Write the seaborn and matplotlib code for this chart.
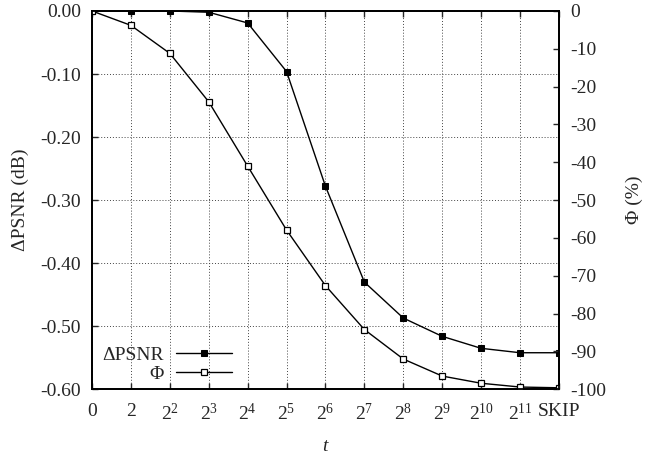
import pandas as pd
import seaborn as sns
import numpy as np
import matplotlib.pyplot as plt

# data
t_labels = ["0", "2", "$2^2$", "$2^3$", "$2^4$", "$2^5$", "$2^6$", "$2^7$",
            "$2^8$", "$2^9$", "$2^{10}$", "$2^{11}$", "SKIP"]
dpsnr = [0.000, 0.000, 0.000, -0.002, -0.019, -0.096, -0.278, -0.430,
         -0.487, -0.516, -0.535, -0.542, -0.542]
phi = [0.0, -3.8, -11.2, -24.0, -41.0, -57.9, -72.6, -84.2,
       -92.0, -96.5, -98.4, -99.4, -99.6]
left_ticks = [-0.6, -0.5, -0.4, -0.3, -0.2, -0.1, 0.0]
right_ticks = list(range(-100, 1, 10))

sns.set_style("ticks")
plt.rcParams["font.family"] = ["Liberation Serif", "DejaVu Serif"]
plt.rcParams["mathtext.fontset"] = "custom"
plt.rcParams["mathtext.rm"] = "Liberation Serif"
plt.rcParams["mathtext.it"] = "Liberation Serif:italic"
plt.rcParams["axes.unicode_minus"] = False
fs = 14

df = pd.DataFrame({"pos": np.arange(len(t_labels)), "dpsnr": dpsnr, "phi": phi})

fig = plt.figure(figsize=(6.45, 4.54), dpi=100)
ax = fig.add_axes([0.1426, 0.1425, 0.7240, 0.8333])
ax2 = ax.twinx()

sns.lineplot(data=df, x="pos", y="dpsnr", ax=ax, color="black", lw=1,
             marker="s", markersize=4.6, markerfacecolor="black",
             markeredgecolor="black", label="ΔPSNR", legend=False)
sns.lineplot(data=df, x="pos", y="phi", ax=ax2, color="black", lw=1,
             marker="s", markersize=4.3, markerfacecolor="white",
             markeredgecolor="black", markeredgewidth=0.9, label="Φ", legend=False)

ax.set_xlim(0, len(t_labels) - 1)
ax.set_ylim(-0.60, 0.0)
ax2.set_ylim(-100, 0)
ax.set_xticks(df["pos"])
ax.set_xticklabels(t_labels)
ax.set_yticks(left_ticks)
ax.set_yticklabels([f"{abs(v):.2f}" if v == 0 else f"{v:.2f}" for v in left_ticks])
ax2.set_yticks(right_ticks)

ax.grid(True, linestyle=(0, (1, 2)), color="#444444", lw=0.7)
ax.set_xlabel("$t$", fontsize=fs, labelpad=10)
ax.set_ylabel("ΔPSNR (dB)", fontsize=fs, labelpad=8)
ax2.set_ylabel("Φ (%)", fontsize=fs, labelpad=14)

for a in (ax, ax2):
    a.tick_params(direction="in", length=4.5, width=1, labelsize=fs, pad=8)
    for s in a.spines.values():
        s.set_linewidth(1.3)
        s.set_color("black")
ax.tick_params(axis="x", top=True, pad=10)

h1, l1 = ax.get_legend_handles_labels()
h2, l2 = ax2.get_legend_handles_labels()
ax2.legend(h1 + h2, l1 + l2, loc="lower left", markerfirst=False,
           frameon=False, handlelength=2.9, handletextpad=0.6, fontsize=fs,
           bbox_to_anchor=(0.006, -0.003), borderaxespad=0.0, labelspacing=0.05)

fig.savefig("out.png", dpi=100)
